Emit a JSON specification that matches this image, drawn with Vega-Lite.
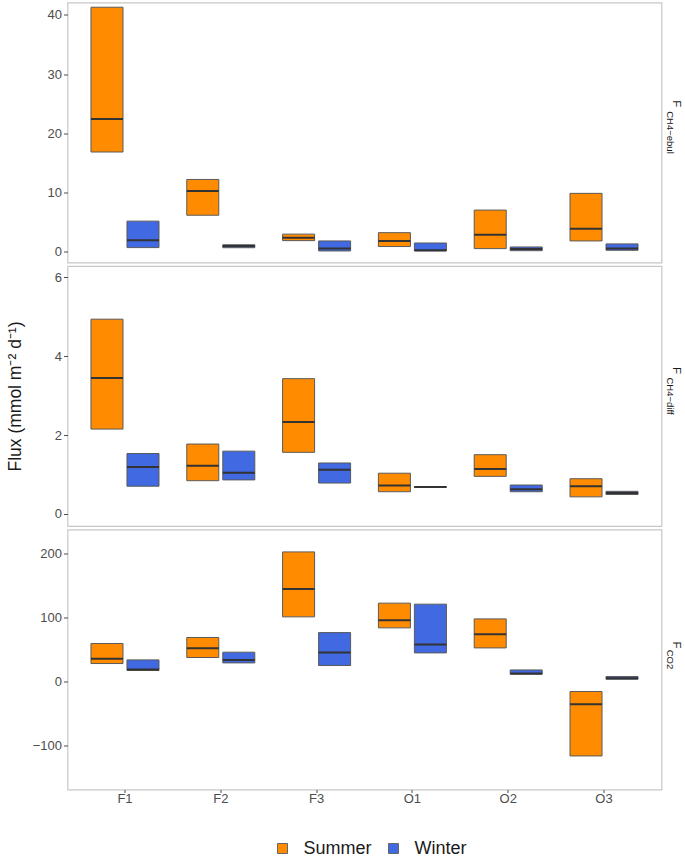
{
  "$schema": "https://vega.github.io/schema/vega-lite/v6.json",
  "background": "white",
  "padding": {"left": 5.5, "top": 1.5, "right": 0, "bottom": 0},
  "spacing": 1.5,
  "data": {"values": [
    {"flux": "ebul", "site": "F1", "season": "Summer", "lower": 16.8, "median": 22.4, "upper": 41.3},
    {"flux": "ebul", "site": "F1", "season": "Winter", "lower": 0.62, "median": 1.86, "upper": 5.1},
    {"flux": "ebul", "site": "F2", "season": "Summer", "lower": 6.1, "median": 10.2, "upper": 12.15},
    {"flux": "ebul", "site": "F2", "season": "Winter", "lower": 0.6, "median": 0.9, "upper": 1.1},
    {"flux": "ebul", "site": "F3", "season": "Summer", "lower": 1.8, "median": 2.3, "upper": 2.9},
    {"flux": "ebul", "site": "F3", "season": "Winter", "lower": 0.05, "median": 0.45, "upper": 1.75},
    {"flux": "ebul", "site": "O1", "season": "Summer", "lower": 0.8, "median": 1.75, "upper": 3.15},
    {"flux": "ebul", "site": "O1", "season": "Winter", "lower": 0.05, "median": 0.17, "upper": 1.4},
    {"flux": "ebul", "site": "O2", "season": "Summer", "lower": 0.45, "median": 2.8, "upper": 6.97},
    {"flux": "ebul", "site": "O2", "season": "Winter", "lower": 0.1, "median": 0.4, "upper": 0.73},
    {"flux": "ebul", "site": "O3", "season": "Summer", "lower": 1.75, "median": 3.8, "upper": 9.8},
    {"flux": "ebul", "site": "O3", "season": "Winter", "lower": 0.17, "median": 0.45, "upper": 1.25},
    {"flux": "diff", "site": "F1", "season": "Summer", "lower": 2.15, "median": 3.45, "upper": 4.94},
    {"flux": "diff", "site": "F1", "season": "Winter", "lower": 0.7, "median": 1.19, "upper": 1.53},
    {"flux": "diff", "site": "F2", "season": "Summer", "lower": 0.84, "median": 1.22, "upper": 1.77},
    {"flux": "diff", "site": "F2", "season": "Winter", "lower": 0.86, "median": 1.04, "upper": 1.59},
    {"flux": "diff", "site": "F3", "season": "Summer", "lower": 1.56, "median": 2.33, "upper": 3.43},
    {"flux": "diff", "site": "F3", "season": "Winter", "lower": 0.78, "median": 1.12, "upper": 1.29},
    {"flux": "diff", "site": "O1", "season": "Summer", "lower": 0.56, "median": 0.72, "upper": 1.03},
    {"flux": "diff", "site": "O1", "season": "Winter", "lower": 0.67, "median": 0.68, "upper": 0.69},
    {"flux": "diff", "site": "O2", "season": "Summer", "lower": 0.95, "median": 1.14, "upper": 1.5},
    {"flux": "diff", "site": "O2", "season": "Winter", "lower": 0.56, "median": 0.62, "upper": 0.73},
    {"flux": "diff", "site": "O3", "season": "Summer", "lower": 0.43, "median": 0.7, "upper": 0.89},
    {"flux": "diff", "site": "O3", "season": "Winter", "lower": 0.49, "median": 0.53, "upper": 0.57},
    {"flux": "co2", "site": "F1", "season": "Summer", "lower": 28.7, "median": 36, "upper": 60},
    {"flux": "co2", "site": "F1", "season": "Winter", "lower": 17.8, "median": 19.4, "upper": 34.4},
    {"flux": "co2", "site": "F2", "season": "Summer", "lower": 38.1, "median": 52.7, "upper": 69.4},
    {"flux": "co2", "site": "F2", "season": "Winter", "lower": 29.7, "median": 34.4, "upper": 46.4},
    {"flux": "co2", "site": "F3", "season": "Summer", "lower": 101.6, "median": 145, "upper": 203},
    {"flux": "co2", "site": "F3", "season": "Winter", "lower": 25.6, "median": 46, "upper": 77},
    {"flux": "co2", "site": "O1", "season": "Summer", "lower": 84.4, "median": 96.4, "upper": 123},
    {"flux": "co2", "site": "O1", "season": "Winter", "lower": 45.3, "median": 58.4, "upper": 121.4},
    {"flux": "co2", "site": "O2", "season": "Summer", "lower": 53.1, "median": 74.5, "upper": 98.4},
    {"flux": "co2", "site": "O2", "season": "Winter", "lower": 12, "median": 13.1, "upper": 18.7},
    {"flux": "co2", "site": "O3", "season": "Summer", "lower": -115.6, "median": -34.8, "upper": -15},
    {"flux": "co2", "site": "O3", "season": "Winter", "lower": 4.2, "median": 5.8, "upper": 8.4}
  ]},
  "resolve": {"scale": {"y": "independent", "x": "independent", "xOffset": "independent", "color": "shared"}},
  "vconcat": [
    {
      "width": 594, "height": 260,
      "title": {"text": "F\u00a0\u00a0\u00a0\u00a0\u00a0\u00a0\u00a0\u00a0\u00a0\u00a0\u00a0\u00a0\u00a0\u00a0\u00a0\u00a0\u00a0\u00a0\u200b", "subtitle": "CH4\u2212ebul", "orient": "right", "anchor": "middle", "angle": 90, "fontSize": 11.5, "subtitleFontSize": 9.5},
      "transform": [{"filter": "datum.flux === 'ebul'"}],
      "encoding": {
        "x": {"field": "site", "type": "nominal", "axis": null, "scale": {"type": "band", "paddingInner": 0.29, "paddingOuter": 0.245}},
        "xOffset": {"field": "season", "type": "nominal", "scale": {"paddingInner": 0.111, "paddingOuter": 0}}
      },
      "layer": [
        {
          "mark": {"type": "bar", "stroke": "#5a5a5a", "strokeWidth": 1},
          "encoding": {
            "y": {"field": "lower", "type": "quantitative", "scale": {"domain": [-1.9, 42.1], "nice": false, "zero": false}, "axis": {"title": null, "values": [0, 10, 20, 30, 40]}},
            "y2": {"field": "upper"},
            "color": {"field": "season", "type": "nominal", "scale": {"domain": ["Summer", "Winter"], "range": ["#FF8C00", "#4169E1"]}, "legend": {"title": null, "orient": "none", "direction": "horizontal", "legendX": 206, "legendY": 837}}
          }
        },
        {
          "mark": {"type": "bar", "stroke": "#333333", "strokeWidth": 2, "fill": null},
          "encoding": {"y": {"field": "median", "type": "quantitative"}, "y2": {"field": "median"}}
        }
      ]
    },
    {
      "width": 594, "height": 260,
      "title": {"text": "F\u00a0\u00a0\u00a0\u00a0\u00a0\u00a0\u00a0\u00a0\u00a0\u00a0\u00a0\u00a0\u00a0\u00a0\u00a0\u00a0\u200b", "subtitle": "CH4\u2212diff", "orient": "right", "anchor": "middle", "angle": 90, "fontSize": 11.5, "subtitleFontSize": 9.5},
      "transform": [{"filter": "datum.flux === 'diff'"}],
      "encoding": {
        "x": {"field": "site", "type": "nominal", "axis": null, "scale": {"type": "band", "paddingInner": 0.29, "paddingOuter": 0.245}},
        "xOffset": {"field": "season", "type": "nominal", "scale": {"paddingInner": 0.111, "paddingOuter": 0}}
      },
      "layer": [
        {
          "mark": {"type": "bar", "stroke": "#5a5a5a", "strokeWidth": 1},
          "encoding": {
            "y": {"field": "lower", "type": "quantitative", "scale": {"domain": [-0.31, 6.29], "nice": false, "zero": false}, "axis": {"title": "Flux (mmol m\u207b\u00b2 d\u207b\u00b9)", "titlePadding": 30, "values": [0, 2, 4, 6]}},
            "y2": {"field": "upper"},
            "color": {"field": "season", "type": "nominal", "scale": {"domain": ["Summer", "Winter"], "range": ["#FF8C00", "#4169E1"]}, "legend": {"title": null, "orient": "none", "direction": "horizontal", "legendX": 206, "legendY": 837}}
          }
        },
        {
          "mark": {"type": "bar", "stroke": "#333333", "strokeWidth": 2, "fill": null},
          "encoding": {"y": {"field": "median", "type": "quantitative"}, "y2": {"field": "median"}}
        }
      ]
    },
    {
      "width": 594, "height": 260,
      "title": {"text": "F\u00a0\u00a0\u00a0\u00a0\u00a0\u00a0\u00a0\u00a0\u00a0\u200b", "subtitle": "CO2", "orient": "right", "anchor": "middle", "angle": 90, "fontSize": 11.5, "subtitleFontSize": 9.5},
      "transform": [{"filter": "datum.flux === 'co2'"}],
      "encoding": {
        "x": {"field": "site", "type": "nominal", "axis": {"title": null, "labelAngle": 0, "tickSize": 3, "labelPadding": 0}, "scale": {"type": "band", "paddingInner": 0.29, "paddingOuter": 0.245}},
        "xOffset": {"field": "season", "type": "nominal", "scale": {"paddingInner": 0.111, "paddingOuter": 0}}
      },
      "layer": [
        {
          "mark": {"type": "bar", "stroke": "#5a5a5a", "strokeWidth": 1},
          "encoding": {
            "y": {"field": "lower", "type": "quantitative", "scale": {"domain": [-168, 238], "nice": false, "zero": false}, "axis": {"title": null, "values": [-100, 0, 100, 200]}},
            "y2": {"field": "upper"},
            "color": {"field": "season", "type": "nominal", "scale": {"domain": ["Summer", "Winter"], "range": ["#FF8C00", "#4169E1"]}, "legend": {"title": null, "orient": "none", "direction": "horizontal", "legendX": 206, "legendY": 837}}
          }
        },
        {
          "mark": {"type": "bar", "stroke": "#333333", "strokeWidth": 2, "fill": null},
          "encoding": {"y": {"field": "median", "type": "quantitative"}, "y2": {"field": "median"}}
        }
      ]
    }
  ],
  "config": {
    "font": "Liberation Sans",
    "view": {"stroke": "#c8c8c8", "strokeWidth": 1.2},
    "axis": {"grid": false, "domain": false, "labelFont": "Liberation Sans", "labelFontSize": 13, "labelColor": "#4d4d4d", "tickColor": "#4d4d4d", "tickSize": 4, "labelPadding": 2, "titleFont": "Liberation Sans", "titleFontSize": 17.5, "titleFontWeight": "normal", "titleColor": "#1a1a1a"},
    "title": {"font": "Liberation Sans", "fontSize": 11.5, "fontWeight": "normal", "color": "#1a1a1a", "subtitleFont": "Liberation Sans", "subtitleFontSize": 9.5, "subtitleColor": "#1a1a1a", "offset": 4, "subtitlePadding": -5},
    "legend": {"labelFont": "Liberation Sans", "labelFontSize": 18, "labelColor": "#1a1a1a", "symbolType": "square", "symbolSize": 100, "symbolStrokeColor": "#666666", "symbolStrokeWidth": 1, "symbolOpacity": 1, "columnPadding": 12, "labelOffset": 12}
  }
}
